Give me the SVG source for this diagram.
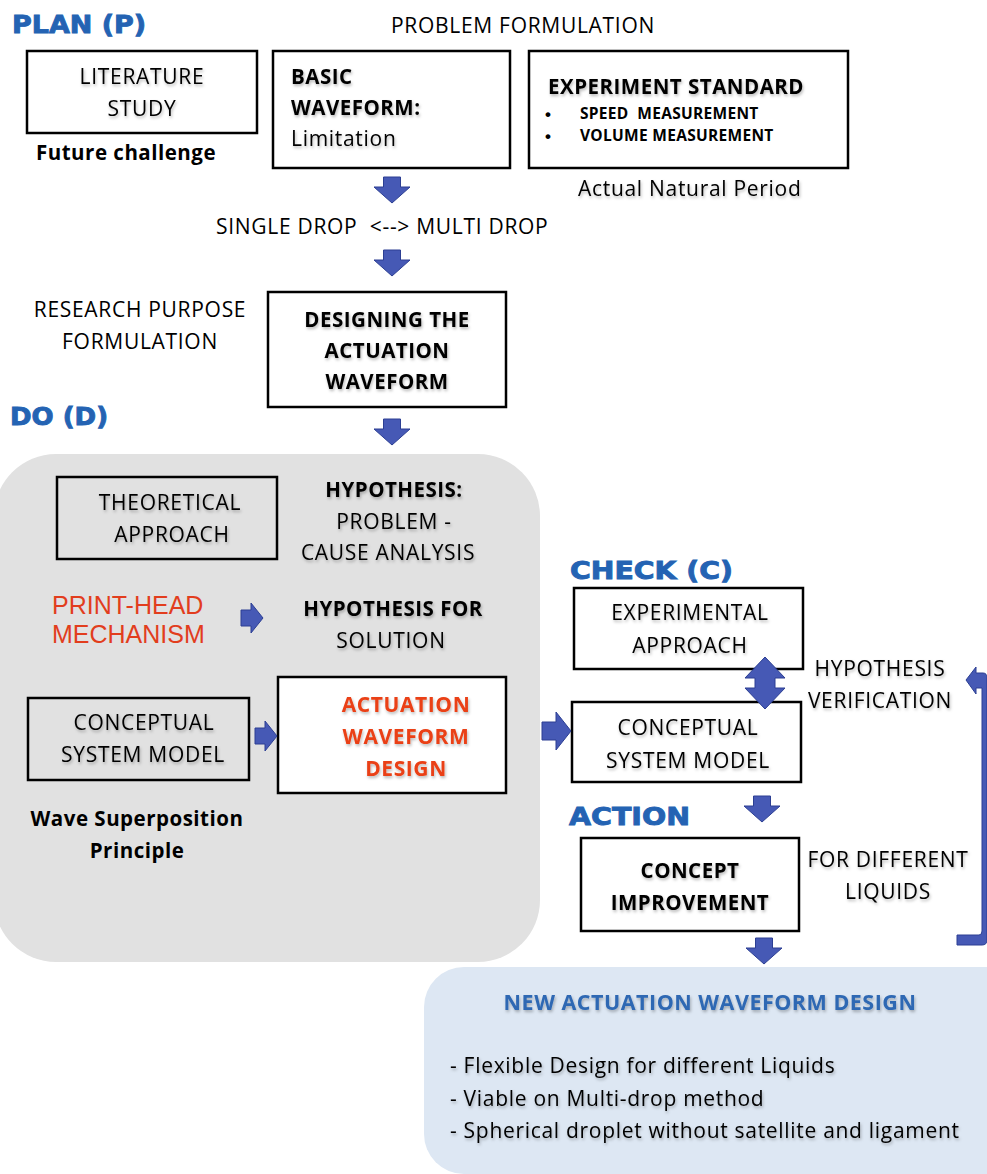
<svg xmlns="http://www.w3.org/2000/svg" xmlns:xlink="http://www.w3.org/1999/xlink" width="987" height="1174" viewBox="0 0 987 1174">
  <defs>
    <filter id="soft" x="-10%" y="-30%" width="120%" height="170%">
      <feDropShadow dx="1" dy="2" stdDeviation="1.4" flood-color="#000" flood-opacity="0.28"/>
    </filter>
    <!-- block arrows, drawn around their own origin -->
    <path id="arrowDown" d="M-8.5,0 H8.5 V10 H18 L0,26 L-18,10 H-8.5 Z"/>
    <path id="arrowRightSmall" d="M0,-8 H10 V-15 L22,0 L10,15 V8 H0 Z"/>
    <path id="arrowRightLarge" d="M0,-9 H14 V-19 L29,0 L14,19 V9 H0 Z"/>
  </defs>
  <style>
    .box { fill: #ffffff; stroke: #000000; stroke-width: 2.5; }
    .boxg { fill: none; stroke: #000000; stroke-width: 2.5; }
    .t { font-family: "Open Sans", "Noto Sans", sans-serif; font-size: 21px; letter-spacing: 0.7px; fill: #000000; }
    .tb { font-family: "Open Sans", "Noto Sans", sans-serif; font-size: 20.5px; letter-spacing: 0.5px; font-weight: bold; fill: #000000; }
    .small { font-size: 15.5px; letter-spacing: 0.3px; }
    .dot { font-family: "Liberation Sans", Arial, sans-serif; font-size: 17px; font-weight: bold; fill: #000000; }
    .sh { filter: url(#soft); }
    .mid { text-anchor: middle; }
    .head { font-family: "DejaVu Sans", "Liberation Sans", sans-serif; font-weight: bold; font-size: 25px; fill: #2463b3; stroke: #2463b3; stroke-width: 0.9; }
    .red { font-family: "Liberation Sans", Arial, sans-serif; font-size: 25px; fill: #e23d1d; }
    .redb { font-family: "Open Sans", "Noto Sans", sans-serif; font-size: 21px; letter-spacing: 0.6px; font-weight: bold; fill: #ea3f14; }
    .arr { fill: #4659b5; stroke: #2c3f93; stroke-width: 1; }
  </style>

  <!-- background panels -->
  <rect id="do-panel" x="-6" y="454" width="546" height="508" rx="62" ry="62" fill="#e1e1e1"/>
  <rect id="result-panel" x="424" y="967" width="600" height="207" rx="40" ry="40" fill="#dde7f3"/>

  <!-- phase headings -->
  <text class="head" x="12" y="33" textLength="134" lengthAdjust="spacingAndGlyphs">PLAN (P)</text>
  <text class="head" x="10" y="425" textLength="98" lengthAdjust="spacingAndGlyphs">DO (D)</text>
  <text class="head" x="570" y="579" textLength="163" lengthAdjust="spacingAndGlyphs">CHECK (C)</text>
  <text class="head" x="569" y="825" textLength="121" lengthAdjust="spacingAndGlyphs">ACTION</text>

  <!-- plan stage -->
  <text class="t mid" x="523" y="33">PROBLEM FORMULATION</text>

  <g id="literature-study">
    <rect class="box" x="27" y="51" width="230" height="82"/>
    <text class="t mid sh" x="142" y="84">LITERATURE</text>
    <text class="t mid sh" x="142" y="116">STUDY</text>
  </g>
  <text class="tb" x="36" y="160">Future challenge</text>

  <g id="basic-waveform">
    <rect class="box" x="273" y="51" width="237" height="117"/>
    <text class="tb sh" x="291" y="84">BASIC</text>
    <text class="tb sh" x="291" y="115">WAVEFORM:</text>
    <text class="t sh" x="291" y="146">Limitation</text>
  </g>

  <g id="experiment-standard">
    <rect class="box" x="529" y="51" width="319" height="117"/>
    <text class="tb sh" x="548" y="94">EXPERIMENT STANDARD</text>
    <text class="dot" x="545" y="120">•</text>
    <text class="tb small" x="580" y="119" xml:space="preserve">SPEED  MEASUREMENT</text>
    <text class="dot" x="545" y="142">•</text>
    <text class="tb small" x="580" y="141">VOLUME MEASUREMENT</text>
  </g>
  <text class="t sh" x="578" y="196">Actual Natural Period</text>

  <text class="t" x="216" y="234" xml:space="preserve">SINGLE DROP  &lt;--&gt; MULTI DROP</text>

  <text class="t mid" x="140" y="317">RESEARCH PURPOSE</text>
  <text class="t mid" x="140" y="349">FORMULATION</text>

  <g id="designing-waveform">
    <rect class="box" x="268" y="292" width="238" height="115"/>
    <text class="tb mid sh" x="387" y="327">DESIGNING THE</text>
    <text class="tb mid sh" x="387" y="358">ACTUATION</text>
    <text class="tb mid sh" x="387" y="389">WAVEFORM</text>
  </g>

  <!-- do stage -->
  <g id="theoretical-approach">
    <rect class="boxg" x="57" y="477" width="220" height="82"/>
    <text class="t mid sh" x="170" y="510">THEORETICAL</text>
    <text class="t mid sh" x="172" y="542">APPROACH</text>
  </g>
  <g id="hypothesis-cause">
    <text class="tb mid sh" x="394" y="497">HYPOTHESIS:</text>
    <text class="t mid sh" x="394" y="529">PROBLEM -</text>
    <text class="t mid sh" x="388" y="560">CAUSE ANALYSIS</text>
  </g>
  <g id="print-head">
    <text class="red" x="52" y="614">PRINT-HEAD</text>
    <text class="red" x="52" y="643">MECHANISM</text>
  </g>
  <g id="hypothesis-solution">
    <text class="tb mid sh" x="393" y="616">HYPOTHESIS FOR</text>
    <text class="t mid sh" x="391" y="648">SOLUTION</text>
  </g>
  <g id="conceptual-model-do">
    <rect class="boxg" x="28" y="698" width="221" height="82"/>
    <text class="t mid sh" x="144" y="730">CONCEPTUAL</text>
    <text class="t mid sh" x="143" y="762">SYSTEM MODEL</text>
  </g>
  <g id="actuation-design">
    <rect class="box" x="278" y="677" width="228" height="116"/>
    <text class="redb mid sh" x="406" y="712">ACTUATION</text>
    <text class="redb mid sh" x="406" y="744">WAVEFORM</text>
    <text class="redb mid sh" x="406" y="776">DESIGN</text>
  </g>
  <text class="tb mid" x="137" y="826">Wave Superposition</text>
  <text class="tb mid" x="137" y="858">Principle</text>

  <!-- check / action stage -->
  <g id="experimental-approach">
    <rect class="box" x="574" y="588" width="229" height="81"/>
    <text class="t mid sh" x="690" y="620">EXPERIMENTAL</text>
    <text class="t mid sh" x="690" y="653">APPROACH</text>
  </g>
  <g id="conceptual-model-check">
    <rect class="box" x="572" y="702" width="229" height="80"/>
    <text class="t mid sh" x="688" y="735">CONCEPTUAL</text>
    <text class="t mid sh" x="688" y="768">SYSTEM MODEL</text>
  </g>
  <g id="hypothesis-verification">
    <text class="t mid sh" x="880" y="676">HYPOTHESIS</text>
    <text class="t mid sh" x="880" y="708">VERIFICATION</text>
  </g>
  <g id="concept-improvement">
    <rect class="box" x="581" y="838" width="218" height="93"/>
    <text class="tb mid sh" x="690" y="878">CONCEPT</text>
    <text class="tb mid sh" x="690" y="910">IMPROVEMENT</text>
  </g>
  <g id="different-liquids">
    <text class="t mid sh" x="888" y="867">FOR DIFFERENT</text>
    <text class="t mid sh" x="888" y="899">LIQUIDS</text>
  </g>

  <!-- outcome -->
  <g id="new-design">
    <text class="tb mid sh" x="710" y="1010" style="fill:#2e68b3;font-size:21.5px">NEW ACTUATION WAVEFORM DESIGN</text>
    <text class="t sh" x="450" y="1073">- Flexible Design for different Liquids</text>
    <text class="t sh" x="450" y="1106">- Viable on Multi-drop method</text>
    <text class="t sh" x="450" y="1138">- Spherical droplet without satellite and ligament</text>
  </g>

  <!-- connectors -->
  <g id="connectors" class="arr">
    <use xlink:href="#arrowDown" x="392" y="177"/>
    <use xlink:href="#arrowDown" x="392" y="250"/>
    <use xlink:href="#arrowDown" x="392" y="419"/>
    <use xlink:href="#arrowRightSmall" x="241" y="618"/>
    <use xlink:href="#arrowRightSmall" x="255" y="736"/>
    <use xlink:href="#arrowRightLarge" x="542" y="731"/>
    <path d="M765,657 L785,678 H775 V688 H785 L765,709 L745,688 H755 V678 H745 Z"/>
    <use xlink:href="#arrowDown" x="762" y="796"/>
    <use xlink:href="#arrowDown" x="764" y="938"/>
    <path d="M957,935 H979 Q982,935 982,931 V688 H976 V694 L966,680 L976,667 V673 H983 Q987,673 987,678 V940 Q987,945 982,945 H957 Z"/>
  </g>
</svg>
